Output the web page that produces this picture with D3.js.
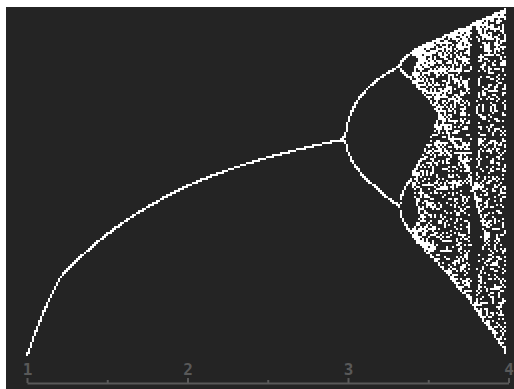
<!DOCTYPE html>
<html><head><meta charset="utf-8">
<script src="https://cdn.jsdelivr.net/npm/d3@7"></script>
<style>html,body{margin:0;padding:0;background:#fff;overflow:hidden}</style>
</head><body>
<svg id="chart" width="514" height="389"></svg>
<script>
// ---- chart values ----
const tickValues = [1, 2, 3, 4];
const tickLabels = ["1", "2", "3", "4"];
const minorTickValues = [1.5, 2.5, 3.5];
// growth rate r (horizontal) – landmarks:
// start, bend, 2, first doubling, second doubling, onset of chaos, end
const rStops = [1, 1.3, 2, 3, 3.449, 3.5699, 4];
// population x (vertical) landmarks
const xStops = [0, 0.5, 0.6667, 0.85, 1];
const startValue = [0.5];        // x0 of the iteration
const transientSteps = [150];    // iterations discarded
const plottedSteps = [18];       // iterations plotted per r sample
const samplesPerColumn = [4];    // r samples in each 2px column

// ---- layout ----
const W = 514, H = 389;
const svg = d3.select("#chart");
svg.append("rect").attr("x", 6).attr("y", 7).attr("width", W - 6).attr("height", H - 7).attr("fill", "#242424");

const xScale = d3.scaleLinear().domain(rStops).range([27, 60, 187.5, 346, 400, 415, 508.5]);
const yScale = d3.scaleLinear().domain(xStops).range([357, 186, 139, 66, 8]);

// logistic map x -> r x (1-x), sampled in 2px columns
const cells = new Set();
const pts = [];
const ns = samplesPerColumn[0];
for (let px = 27; px <= 505; px += 2) {
  for (let s = 0; s < ns; s++) {
    const r = xScale.invert(Math.max(27, px - 1 + (s + 0.5) * 2 / ns));
    let x = startValue[0];
    for (let i = 0; i < transientSteps[0]; i++) x = r * x * (1 - x);
    for (let i = 0; i < plottedSteps[0]; i++) {
      x = r * x * (1 - x);
      const cy = Math.floor(yScale(x) / 2) * 2;
      const key = px + "_" + cy;
      if (!cells.has(key)) { cells.add(key); pts.push([px, cy]); }
    }
  }
}
svg.append("g").attr("shape-rendering", "crispEdges")
  .selectAll("rect").data(pts).join("rect")
  .attr("x", d => d[0] - 1).attr("y", d => d[1])
  .attr("width", 2).attr("height", 2).attr("fill", "#ffffff");

// axis
const tickScale = d3.scaleLinear().domain([1, 4]).range([27, 508.5]);
const axisColor = "#595959";
const gAxis = svg.append("g").attr("transform", "translate(0,383)");
gAxis.call(d3.axisTop(tickScale).tickValues(tickValues).tickFormat((d, i) => tickLabels[i])
  .tickSize(5).tickSizeOuter(0).tickPadding(3));
gAxis.select(".domain").attr("stroke", axisColor).attr("stroke-width", 2);
gAxis.selectAll(".tick line").attr("stroke", axisColor).attr("stroke-width", 2);
gAxis.selectAll(".tick text").attr("fill", axisColor)
  .attr("font-family", "DejaVu Sans Mono").attr("font-weight", "bold").attr("font-size", 16);
const gMinor = svg.append("g").attr("transform", "translate(0,383)");
gMinor.call(d3.axisTop(tickScale).tickValues(minorTickValues).tickFormat("").tickSize(3).tickSizeOuter(0));
gMinor.select(".domain").remove();
gMinor.selectAll(".tick line").attr("stroke", axisColor).attr("stroke-width", 2);
</script>
</body></html>
